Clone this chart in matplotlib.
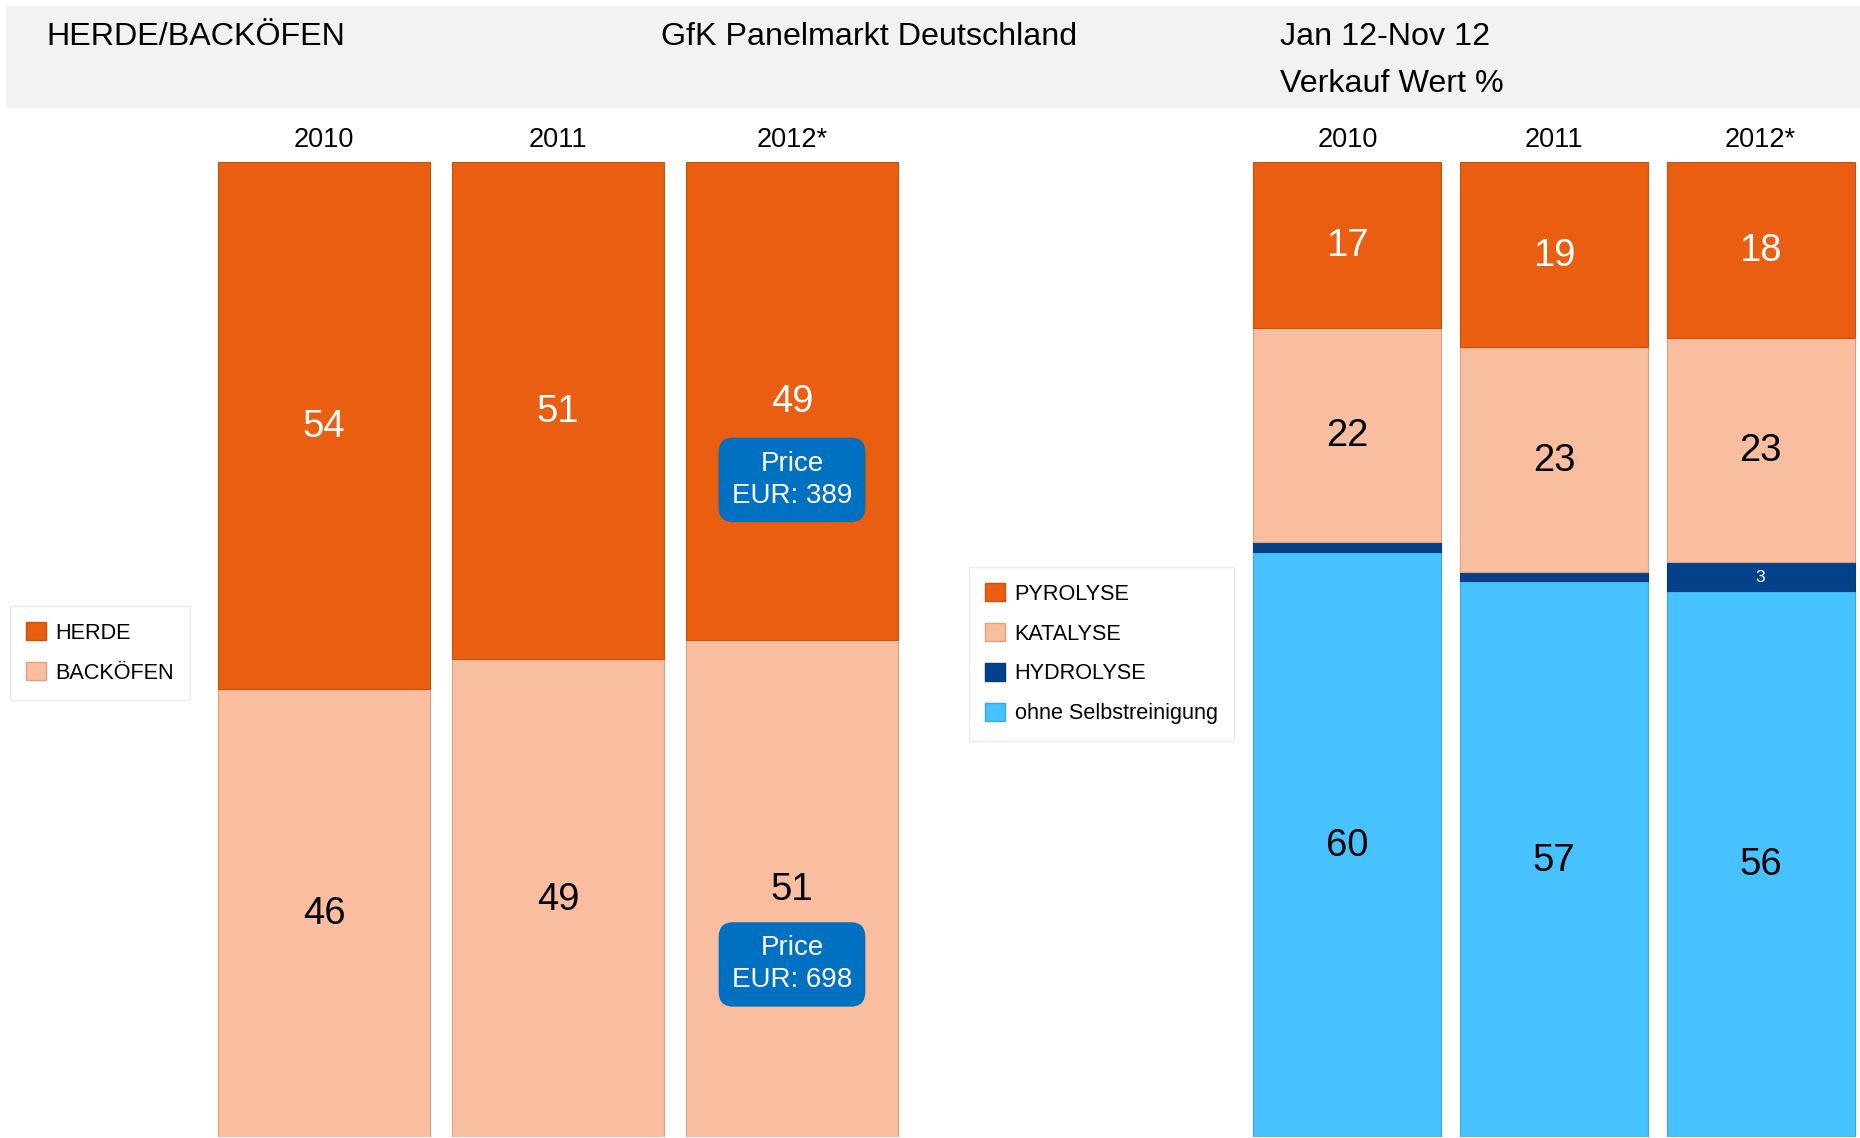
"""Stacked share bars: Herde/Backöfen and self-cleaning types, GfK Panelmarkt Deutschland."""

import matplotlib
matplotlib.use("Agg")
import matplotlib.pyplot as plt
from matplotlib.patches import Patch, Rectangle

plt.rcParams["font.family"] = ["Liberation Sans", "DejaVu Sans"]

W, H = 1860, 1138
DPI = 100

# left panel
years = ["2010", "2011", "2012*"]
herde = [54, 51, 49]
backofen = [46, 49, 51]
price_labels = ["Price\nEUR: 389", "Price\nEUR: 698"]

# right panel (bottom to top)
ohne = [60, 57, 56]
hydrolyse = [1, 1, 3]
katalyse = [22, 23, 23]
pyrolyse = [17, 19, 18]

ORANGE = "#E95E10"
PEACH = "#F8BE9F"
NAVY = "#03428A"
SKY = "#46C2FE"
PRICE_BLUE = "#0070C0"
EDGES = {ORANGE: "#C9520F", PEACH: "#DDA080", NAVY: "#03397A", SKY: "#3AA8E0"}


def px_axes(fig, left, top, right, bottom):
    return fig.add_axes([left / W, 1 - bottom / H, (right - left) / W, (bottom - top) / H])


fig = plt.figure(figsize=(W / DPI, H / DPI), dpi=DPI)

# header band
fig.patches.append(Rectangle((6 / W, 1 - 108 / H), 1 - 6 / W, 102 / H,
                             transform=fig.transFigure, facecolor="#F2F2F2",
                             edgecolor="none", zorder=0))
hdr = dict(fontsize=23.2, va="center", ha="left", color="black")
fig.text(46 / W, 1 - 37 / H, "HERDE/BACKÖFEN", **hdr)
fig.text(661 / W, 1 - 37 / H, "GfK Panelmarkt Deutschland", **hdr)
fig.text(1280 / W, 1 - 37 / H, "Jan 12-Nov 12", **hdr)
fig.text(1280 / W, 1 - 84 / H, "Verkauf Wert %", **hdr)

bar_w = 0.91
x = range(len(years))
VAL_FS = 27.5
NUDGE = 0.15  # labels sit a hair below the segment centre

# ---- left panel ----
axl = px_axes(fig, 207, 162, 909, 1137)
axl.set_xlim(-0.5, 2.5)
axl.set_ylim(0, 100)
axl.axis("off")
axl.bar(x, backofen, bar_w, color=PEACH, edgecolor=EDGES[PEACH], linewidth=0.8)
axl.bar(x, herde, bar_w, bottom=backofen, color=ORANGE, edgecolor=EDGES[ORANGE], linewidth=0.8)
for i, yr in enumerate(years):
    axl.text(i, 102.3, yr, ha="center", va="center", fontsize=19.5)
    axl.text(i, backofen[i] + herde[i] / 2 - NUDGE, str(herde[i]), ha="center",
             va="center", fontsize=VAL_FS, color="white")
    axl.text(i, backofen[i] / 2 - NUDGE, str(backofen[i]), ha="center",
             va="center", fontsize=VAL_FS, color="black")

price_y = [backofen[2] + herde[2] / 2 - 8.1, backofen[2] / 2 - 7.8]
for py, lab in zip(price_y, price_labels):
    axl.text(2, py, lab, ha="center", va="center", fontsize=20, color="white",
             linespacing=1.3,
             bbox=dict(boxstyle="round,pad=0.45,rounding_size=0.5",
                       facecolor=PRICE_BLUE, edgecolor=PRICE_BLUE))

leg_kw = dict(fontsize=15.6, frameon=True, fancybox=False, handlelength=0.9,
              handleheight=0.9, handletextpad=0.45, labelspacing=0.85,
              borderpad=0.75, borderaxespad=0, edgecolor="#EBEBEB", framealpha=1.0)
h_left = [Patch(facecolor=ORANGE, edgecolor=EDGES[ORANGE]),
          Patch(facecolor=PEACH, edgecolor=EDGES[PEACH])]
leg1 = fig.legend(h_left, ["HERDE", "BACKÖFEN"], loc="upper left",
                  bbox_to_anchor=(10 / W, 1 - 606 / H), **leg_kw)
leg1.get_frame().set_linewidth(1.0)

# ---- right panel ----
axr = px_axes(fig, 1244, 162, 1864, 1137)
axr.set_xlim(-0.5, 2.5)
axr.set_ylim(0, 100)
axr.axis("off")
stack = [(ohne, SKY), (hydrolyse, NAVY), (katalyse, PEACH), (pyrolyse, ORANGE)]
base = [0, 0, 0]
for vals, col in stack:
    axr.bar(x, vals, bar_w, bottom=base, color=col, edgecolor=EDGES[col], linewidth=0.8)
    base = [b + v for b, v in zip(base, vals)]

for i, yr in enumerate(years):
    axr.text(i, 102.3, yr, ha="center", va="center", fontsize=19.5)
    b0 = 0
    for vals, col in stack:
        v = vals[i]
        if col == NAVY:
            if v >= 2:
                axr.text(i, b0 + v / 2, str(v), ha="center", va="center_baseline",
                         fontsize=12.5, color="white")
        else:
            tc = "white" if col == ORANGE else "black"
            axr.text(i, b0 + v / 2 - NUDGE, str(v), ha="center", va="center",
                     fontsize=VAL_FS, color=tc)
        b0 += v

h_right = [Patch(facecolor=c, edgecolor=EDGES[c]) for c in (ORANGE, PEACH, NAVY, SKY)]
leg2 = fig.legend(h_right, ["PYROLYSE", "KATALYSE", "HYDROLYSE", "ohne Selbstreinigung"],
                  loc="upper left", bbox_to_anchor=(969 / W, 1 - 567 / H), **leg_kw)
leg2.get_frame().set_linewidth(1.0)

fig.savefig("out.png", dpi=DPI)
plt.close(fig)
